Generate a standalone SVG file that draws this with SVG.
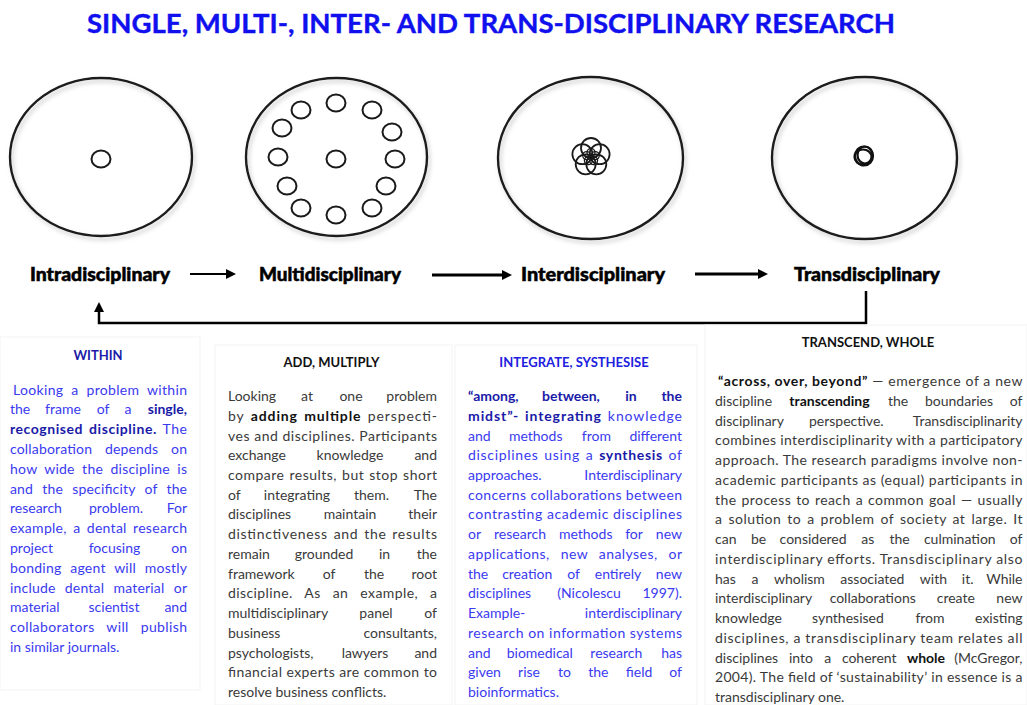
<svg xmlns="http://www.w3.org/2000/svg" width="1027" height="705" viewBox="0 0 1027 705">
<style>
.title{font-family:Lato,"Liberation Sans",sans-serif;font-weight:700;font-size:27px;fill:#1010ee;stroke:#1010ee;stroke-width:0.4}
.lbl{font-family:Lato,"Liberation Sans",sans-serif;font-weight:900;font-size:18px;fill:#000;stroke:#000;stroke-width:0.5}
.hb{font-family:Lato,"Liberation Sans",sans-serif;font-weight:700;font-size:13px;text-anchor:middle}
.t{font-family:Lato,"Liberation Sans",sans-serif;font-size:14px}
.blue{fill:#3a3af0}
.blue .b,.blue.b{fill:#1a1aa8;font-weight:700}
.grey{fill:#3a3a3a}
.grey .b,.grey.b{fill:#111;font-weight:700}
.m{text-anchor:middle}
.e{text-anchor:end}
.outer{fill:none;stroke:#1a1a1a;stroke-width:2.4}
.dot{fill:none;stroke:#1a1a1a;stroke-width:2}
.panel{fill:#fff;stroke:#f3f3f3;stroke-width:1}
.conn{fill:none;stroke:#000}
</style>
<defs>
<filter id="sh" x="-10%" y="-10%" width="120%" height="125%">
<feDropShadow dx="2" dy="3" stdDeviation="2" flood-color="#888" flood-opacity="0.45"/>
</filter>
<marker id="ah" markerUnits="userSpaceOnUse" viewBox="0 0 10 10" refX="2" refY="5" markerWidth="10" markerHeight="10" orient="auto">
<path d="M0,0 L10,5 L0,10 Z" fill="#000"/>
</marker>
</defs>
<rect width="1027" height="705" fill="#fff"/>

<text id="title" class="title" x="87" y="33" textLength="808" lengthAdjust="spacingAndGlyphs">SINGLE, MULTI-, INTER- AND TRANS-DISCIPLINARY RESEARCH</text>

<g id="node-intra">
<ellipse class="outer" cx="101" cy="157" rx="91" ry="79" filter="url(#sh)"/>
<ellipse class="dot" cx="101" cy="159" rx="9.5" ry="8.5"/>
<text class="lbl" x="30" y="281" textLength="140" lengthAdjust="spacingAndGlyphs">Intradisciplinary</text>
</g>

<g id="node-multi">
<ellipse class="outer" cx="336.5" cy="157" rx="90.5" ry="79" filter="url(#sh)"/>
<ellipse class="dot" cx="336" cy="159" rx="9.5" ry="8.5"/>
<ellipse class="dot" cx="336" cy="103" rx="9.5" ry="8.5"/>
<ellipse class="dot" cx="301" cy="110" rx="9.5" ry="8.5"/>
<ellipse class="dot" cx="372" cy="110" rx="9.5" ry="8.5"/>
<ellipse class="dot" cx="282" cy="128" rx="9.5" ry="8.5"/>
<ellipse class="dot" cx="392" cy="132" rx="9.5" ry="8.5"/>
<ellipse class="dot" cx="278" cy="157" rx="9.5" ry="8.5"/>
<ellipse class="dot" cx="395" cy="159" rx="9.5" ry="8.5"/>
<ellipse class="dot" cx="287" cy="186" rx="9.5" ry="8.5"/>
<ellipse class="dot" cx="386" cy="186" rx="9.5" ry="8.5"/>
<ellipse class="dot" cx="301" cy="208" rx="9.5" ry="8.5"/>
<ellipse class="dot" cx="372" cy="208" rx="9.5" ry="8.5"/>
<ellipse class="dot" cx="336" cy="215" rx="9.5" ry="8.5"/>
<text class="lbl" x="259" y="281" textLength="142" lengthAdjust="spacingAndGlyphs">Multidisciplinary</text>
</g>

<g id="node-inter">
<ellipse class="outer" cx="590.5" cy="158" rx="92.5" ry="81" filter="url(#sh)"/>
<g fill="none" stroke="#1a1a1a" stroke-width="1.8">
<circle cx="591" cy="148" r="10"/>
<circle cx="599.6" cy="154.2" r="10"/>
<circle cx="596.3" cy="164.3" r="10"/>
<circle cx="585.7" cy="164.3" r="10"/>
<circle cx="582.4" cy="154.2" r="10"/>
</g>
<g fill="none" stroke="#1a1a1a" stroke-width="1.3">
<circle cx="591" cy="152.5" r="4"/>
<circle cx="595.3" cy="155.6" r="4"/>
<circle cx="593.6" cy="160.6" r="4"/>
<circle cx="588.4" cy="160.6" r="4"/>
<circle cx="586.7" cy="155.6" r="4"/>
</g>
<text class="lbl" x="521" y="281" textLength="144" lengthAdjust="spacingAndGlyphs">Interdisciplinary</text>
</g>

<g id="node-trans">
<ellipse class="outer" cx="864.5" cy="158" rx="92.5" ry="81" filter="url(#sh)"/>
<g fill="none" stroke="#111" stroke-width="2.2">
<ellipse cx="864" cy="156" rx="9" ry="9.5"/>
<ellipse cx="865" cy="155" rx="7.5" ry="8.5"/>
<ellipse cx="863" cy="157" rx="8.5" ry="7.5"/>
</g>
<text class="lbl" x="794" y="281" textLength="146" lengthAdjust="spacingAndGlyphs">Transdisciplinary</text>
</g>

<g id="connectors">
<line class="conn" x1="190" y1="274" x2="228" y2="274" stroke-width="2" marker-end="url(#ah)"/>
<line class="conn" x1="432" y1="275" x2="504" y2="275" stroke-width="3" marker-end="url(#ah)"/>
<line class="conn" x1="695" y1="274" x2="760" y2="274" stroke-width="3" marker-end="url(#ah)"/>
<path class="conn" d="M866,291 V323 H99 V310" stroke-width="2.5" marker-end="url(#ah)"/>
</g>

<g id="panel-within">
<rect class="panel" x="0" y="337" width="200" height="353"/>
<text class="hb blue b" x="98" y="360" fill="#2020e0">WITHIN</text>
<g class="t blue">
<text x="13" y="394.5" textLength="174" lengthAdjust="spacing" word-spacing="4">Looking a problem within</text>
<text x="10" y="414.3">the</text><text class="m" x="63" y="414.3">frame</text><text class="m" x="103" y="414.3">of</text><text class="m" x="128" y="414.3">a</text><text class="e b" x="187" y="414.3">single,</text>
<text x="10" y="434.1" textLength="177" lengthAdjust="spacing" word-spacing="2"><tspan class="b">recognised discipline.</tspan> The</text>
<text x="10" y="453.9" textLength="177" lengthAdjust="spacing" word-spacing="9">collaboration depends on</text>
<text x="10" y="473.7" textLength="177" lengthAdjust="spacing" word-spacing="3.5">how wide the discipline is</text>
<text x="10" y="493.5" textLength="177" lengthAdjust="spacing" word-spacing="5.5">and the specificity of the</text>
<text x="10" y="513.3">research</text><text class="m" x="116" y="513.3">problem.</text><text class="e" x="187" y="513.3">For</text>
<text x="10" y="533.1" textLength="177" lengthAdjust="spacing" word-spacing="2.5">example, a dental research</text>
<text x="10" y="552.9">project</text><text class="m" x="114.5" y="552.9">focusing</text><text class="e" x="187" y="552.9">on</text>
<text x="10" y="572.7" textLength="177" lengthAdjust="spacing" word-spacing="5">bonding agent will mostly</text>
<text x="10" y="592.5" textLength="177" lengthAdjust="spacing" word-spacing="5.5">include dental material or</text>
<text x="10" y="612.3">material</text><text class="m" x="114" y="612.3">scientist</text><text class="e" x="187" y="612.3">and</text>
<text x="10" y="632.1" textLength="177" lengthAdjust="spacing" word-spacing="8">collaborators will publish</text>
<text x="10" y="651.9">in similar journals.</text>
</g>
</g>

<g id="panel-add">
<rect class="panel" x="215" y="345" width="237" height="360"/>
<text class="hb" x="331.5" y="367" fill="#111">ADD, MULTIPLY</text>
<g class="t grey">
<text x="228" y="401">Looking</text><text class="m" x="307" y="401">at</text><text class="m" x="351" y="401">one</text><text class="e" x="437" y="401">problem</text>
<text x="228" y="420.7" textLength="209" lengthAdjust="spacing" word-spacing="2">by <tspan class="b">adding multiple</tspan> perspecti-</text>
<text x="228" y="440.5" textLength="209" lengthAdjust="spacing">ves and disciplines. Participants</text>
<text x="228" y="460.2">exchange</text><text class="m" x="350" y="460.2">knowledge</text><text class="e" x="437" y="460.2">and</text>
<text x="228" y="479.9" textLength="209" lengthAdjust="spacing" word-spacing="1">compare results, but stop short</text>
<text x="228" y="499.7">of</text><text class="m" x="297" y="499.7">integrating</text><text class="m" x="371.5" y="499.7">them.</text><text class="e" x="437" y="499.7">The</text>
<text x="228" y="519.4">disciplines</text><text class="m" x="350" y="519.4">maintain</text><text class="e" x="437" y="519.4">their</text>
<text x="228" y="539.1" textLength="209" lengthAdjust="spacing" word-spacing="1.5">distinctiveness and the results</text>
<text x="228" y="558.8">remain</text><text class="m" x="324" y="558.8">grounded</text><text class="m" x="384.5" y="558.8">in</text><text class="e" x="437" y="558.8">the</text>
<text x="228" y="578.6">framework</text><text class="m" x="329" y="578.6">of</text><text class="m" x="374" y="578.6">the</text><text class="e" x="437" y="578.6">root</text>
<text x="228" y="598.3" textLength="209" lengthAdjust="spacing" word-spacing="8">discipline. As an example, a</text>
<text x="228" y="618">multidisciplinary</text><text class="m" x="376" y="618">panel</text><text class="e" x="437" y="618">of</text>
<text x="228" y="637.8">business</text><text class="e" x="437" y="637.8">consultants,</text>
<text x="228" y="657.5">psychologists,</text><text class="m" x="365" y="657.5">lawyers</text><text class="e" x="437" y="657.5">and</text>
<text x="228" y="677.2" textLength="209" lengthAdjust="spacing">financial experts are common to</text>
<text x="228" y="697">resolve business conflicts.</text>
</g>
</g>

<g id="panel-integrate">
<rect class="panel" x="455" y="345" width="242" height="360"/>
<text class="hb" x="574" y="367" fill="#2020e0">INTEGRATE, SYSTHESISE</text>
<g class="t blue">
<text class="b" x="468" y="401">“among,</text><text class="m b" x="571" y="401">between,</text><text class="m b" x="631" y="401">in</text><text class="e b" x="682" y="401">the</text>
<text x="468" y="420.7" textLength="214" lengthAdjust="spacing" word-spacing="1.5"><tspan class="b">midst”- integrating</tspan> knowledge</text>
<text x="468" y="440.5">and</text><text class="m" x="535.7" y="440.5">methods</text><text class="m" x="596.4" y="440.5">from</text><text class="e" x="682" y="440.5">different</text>
<text x="468" y="460.2" textLength="214" lengthAdjust="spacing" word-spacing="1.5">disciplines using a <tspan class="b">synthesis</tspan> of</text>
<text x="468" y="479.9">approaches.</text><text class="e" x="682" y="479.9">Interdisciplinary</text>
<text x="468" y="499.7" textLength="214" lengthAdjust="spacing">concerns collaborations between</text>
<text x="468" y="519.4" textLength="214" lengthAdjust="spacing">contrasting academic disciplines</text>
<text x="468" y="539.1">or</text><text class="m" x="520" y="539.1">research</text><text class="m" x="585.7" y="539.1">methods</text><text class="m" x="634" y="539.1">for</text><text class="e" x="682" y="539.1">new</text>
<text x="468" y="558.8" textLength="214" lengthAdjust="spacing" word-spacing="7">applications, new analyses, or</text>
<text x="468" y="578.6">the</text><text class="m" x="527.2" y="578.6">creation</text><text class="m" x="573.5" y="578.6">of</text><text class="m" x="618" y="578.6">entirely</text><text class="e" x="682" y="578.6">new</text>
<text x="468" y="598.3">disciplines</text><text class="m" x="589" y="598.3">(Nicolescu</text><text class="e" x="682" y="598.3">1997).</text>
<text x="468" y="618">Example-</text><text class="e" x="682" y="618">interdisciplinary</text>
<text x="468" y="637.8" textLength="214" lengthAdjust="spacing">research on information systems</text>
<text x="468" y="657.5">and</text><text class="m" x="539.8" y="657.5">biomedical</text><text class="m" x="616.3" y="657.5">research</text><text class="e" x="682" y="657.5">has</text>
<text x="468" y="677.2">given</text><text class="m" x="529" y="677.2">rise</text><text class="m" x="564.5" y="677.2">to</text><text class="m" x="598.3" y="677.2">the</text><text class="m" x="639" y="677.2">field</text><text class="e" x="682" y="677.2">of</text>
<text x="468" y="697">bioinformatics.</text>
</g>
</g>

<g id="panel-transcend">
<rect class="panel" x="705" y="325" width="322" height="380"/>
<text class="hb" x="868" y="347" fill="#111">TRANSCEND, WHOLE</text>
<g class="t grey">
<text x="718" y="386" textLength="304.5" lengthAdjust="spacing"><tspan class="b">“across, over, beyond”</tspan> — emergence of a new</text>
<text x="715" y="405.75">discipline</text><text class="m b" x="829.5" y="405.75">transcending</text><text class="m" x="898" y="405.75">the</text><text class="m" x="959" y="405.75">boundaries</text><text class="e" x="1022.5" y="405.75">of</text>
<text x="715" y="425.5">disciplinary</text><text class="m" x="846.3" y="425.5">perspective.</text><text class="e" x="1022.5" y="425.5">Transdisciplinarity</text>
<text x="715" y="445.25" textLength="307.5" lengthAdjust="spacing">combines interdisciplinarity with a participatory</text>
<text x="715" y="465" textLength="307.5" lengthAdjust="spacing">approach. The research paradigms involve non-</text>
<text x="715" y="484.75" textLength="307.5" lengthAdjust="spacing">academic participants as (equal) participants in</text>
<text x="715" y="504.5" textLength="307.5" lengthAdjust="spacing" word-spacing="1">the process to reach a common goal — usually</text>
<text x="715" y="524.25" textLength="307.5" lengthAdjust="spacing" word-spacing="2">a solution to a problem of society at large. It</text>
<text x="715" y="544">can</text><text class="m" x="758.5" y="544">be</text><text class="m" x="813.1" y="544">considered</text><text class="m" x="867.7" y="544">as</text><text class="m" x="899.6" y="544">the</text><text class="m" x="959.8" y="544">culmination</text><text class="e" x="1022.5" y="544">of</text>
<text x="715" y="563.75" textLength="307.5" lengthAdjust="spacing">interdisciplinary efforts. Transdisciplinary also</text>
<text x="715" y="583.5">has</text><text class="m" x="755" y="583.5">a</text><text class="m" x="799.4" y="583.5">wholism</text><text class="m" x="872.4" y="583.5">associated</text><text class="m" x="933.4" y="583.5">with</text><text class="m" x="967.7" y="583.5">it.</text><text class="e" x="1022.5" y="583.5">While</text>
<text x="715" y="603.25">interdisciplinary</text><text class="m" x="872.7" y="603.25">collaborations</text><text class="m" x="955.8" y="603.25">create</text><text class="e" x="1022.5" y="603.25">new</text>
<text x="715" y="623">knowledge</text><text class="m" x="847.9" y="623">synthesised</text><text class="m" x="930" y="623">from</text><text class="e" x="1022.5" y="623">existing</text>
<text x="715" y="642.75" textLength="307.5" lengthAdjust="spacing">disciplines, a transdisciplinary team relates all</text>
<text x="715" y="662.5">disciplines</text><text class="m" x="800.9" y="662.5">into</text><text class="m" x="827.7" y="662.5">a</text><text class="m" x="869.2" y="662.5">coherent</text><text class="m b" x="926" y="662.5">whole</text><text class="e" x="1022.5" y="662.5">(McGregor,</text>
<text x="715" y="682.25" textLength="307.5" lengthAdjust="spacing">2004). The field of ‘sustainability’ in essence is a</text>
<text x="715" y="702">transdisciplinary one.</text>
</g>
</g>
</svg>
